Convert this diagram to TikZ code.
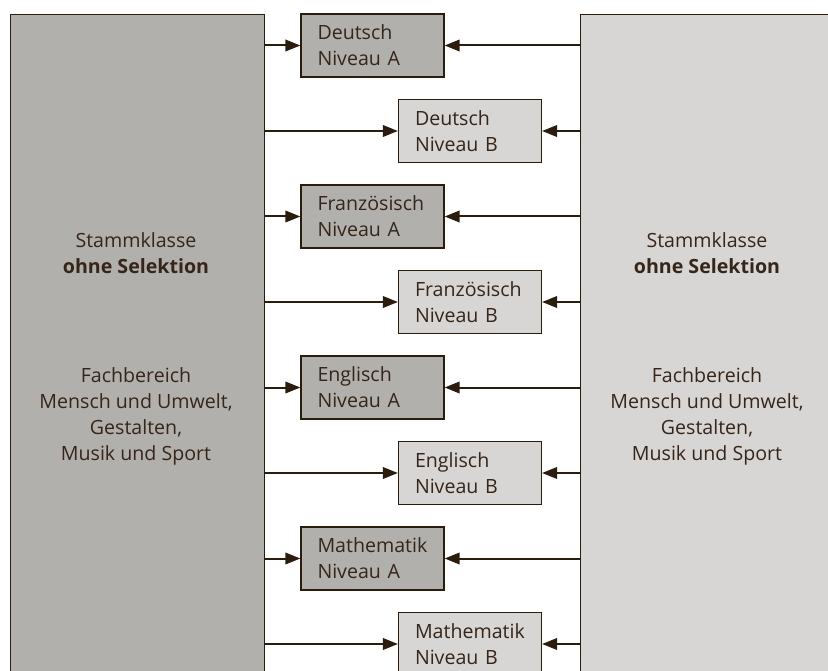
\documentclass[tikz,border=0pt]{standalone}
\usepackage{fontspec}
\setmainfont{Open Sans}
\usetikzlibrary{arrows.meta}
\definecolor{dk}{HTML}{2B1D0E}
\definecolor{txt}{HTML}{35251A}
\definecolor{gA}{HTML}{B2B0AC}
\definecolor{gB}{HTML}{D7D6D4}
\tikzset{
  bigbox/.style={draw=dk, line width=1.4pt, rectangle, minimum width=254pt, minimum height=700pt, anchor=north west, inner sep=0pt},
  bigtext/.style={align=center, text=txt, inner sep=0pt, font=\fontsize{19.6}{26}\selectfont},
  subjbox/.style={draw=dk, line width=1.2pt, rectangle, text width=110pt, inner xsep=16.5pt, inner ysep=0pt, minimum height=63pt, align=left, text=txt, font=\fontsize{19.6}{26}\selectfont},
  boxA/.style={subjbox, fill=gA},
  boxB/.style={subjbox, fill=gB},
  conn/.style={draw=dk, line width=2pt, -{Triangle[length=15pt,width=11.5pt]}}
}
\begin{document}
\begin{tikzpicture}[x=1pt,y=-1pt]
\useasboundingbox (0,0) rectangle (828,671);
\clip (0,0) rectangle (828,671);
\node[bigbox, fill=gA] (L) at (9.5,14) {};
\node[bigbox, fill=gB] (R) at (580,14) {};
\node[bigtext] (Lt1) at (136,253.5) {Stammklasse\\\textbf{ohne Selektion}};
\node[bigtext] (Lt2) at (136,416) {Fachbereich\\Mensch und Umwelt,\\Gestalten,\\Musik und Sport};
\node[bigtext] (Rt1) at (707,253.5) {Stammklasse\\\textbf{ohne Selektion}};
\node[bigtext] (Rt2) at (707,416) {Fachbereich\\Mensch und Umwelt,\\Gestalten,\\Musik und Sport};
\foreach \s [count=\i from 0] in {Deutsch,Französisch,Englisch,Mathematik}{
  \node[boxA] (A\i) at (372.5,45.5+171*\i) {\s\\Niveau A};
  \node[boxB] (B\i) at (470,131+171*\i) {\s\\Niveau B};
  \draw[conn] (L.east |- A\i.west) -- (A\i.west);
  \draw[conn] (R.west |- A\i.east) -- (A\i.east);
  \draw[conn] (L.east |- B\i.west) -- (B\i.west);
  \draw[conn] (R.west |- B\i.east) -- (B\i.east);
}
\end{tikzpicture}
\end{document}
